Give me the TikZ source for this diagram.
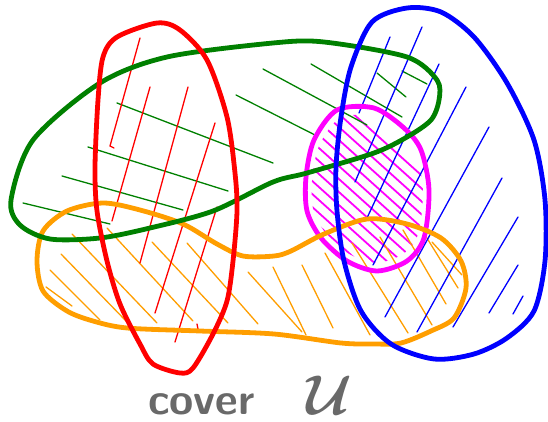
\documentclass[tikz,border=0pt]{standalone}
\usepackage{tikz}
\usepackage{xcolor}
\usepackage{graphicx}
\usepackage{bm}

\definecolor{cgreen}{RGB}{0,128,0}
\definecolor{cred}{RGB}{255,0,0}
\definecolor{cblue}{RGB}{0,0,255}
\definecolor{cmagenta}{RGB}{255,0,255}
\definecolor{corange}{RGB}{255,158,0}
\definecolor{cgrey}{RGB}{105,105,105}

\begin{document}
\begin{tikzpicture}[x=1pt,y=-1pt,
  outline/.style={line width=4.8pt,line cap=round,line join=round},
  hatch/.style={line width=1.3pt,line cap=round}]

\useasboundingbox (0,0) rectangle (548,422);

% magenta hatching
\begin{scope}
\clip[scale around={0.9:(368,190)}] plot[smooth cycle] coordinates {(337,110) (374,108) (404,128) (421,150) (429,190) (424,238) (407,261) (377,271) (347,261) (321,238) (307,211) (306,177) (314,140)};
\foreach \c in {-204,-191,...,-60} \draw[hatch,cmagenta,line width=1.8pt] (290,{261+\c}) -- (440,{396+\c});
\end{scope}

% orange hatching
\foreach \a/\b/\c/\d in {72/234/157/323, 107/228/193/321, 152/242/228/323, 187/243/258/324,
  61/254/127/322, 50/270/100/320, 46/287/72/306, 248/272/302/332, 273/267/306/335,
  302/265/333/328, 325/253/370/335, 352/243/408/333, 380/237/432/325, 403/230/446/304,
  425/235/458/288, 432/242/462/275}
  \draw[hatch,corange] (\a,\b) -- (\c,\d);

% green hatching
\foreach \a/\b/\c/\d in {117/103/273/163, 88/147/228/191, 62/176/183/210, 23/203/110/224,
  236/95/315/135, 263/69/367/125, 311/64/402/117, 377/73/406/97, 402/71/427/84}
  \draw[hatch,cgreen] (\a,\b) -- (\c,\d);

% red hatching
\draw[hatch,cred] (140,38) -- (110,146) -- (114,148);
\foreach \a/\b/\c/\d in {150/87/112/221, 188/87/140/263, 215/123/155/313, 217/207/175/342, 197/324/198/329}
  \draw[hatch,cred] (\a,\b) -- (\c,\d);

% blue hatching
\foreach \a/\b/\c/\d in {390/37/359/113, 422/27/355/182, 439/64/367/218, 466/87/373/265,
  489/127/385/317, 502/178/417/332, 518/217/453/327, 518/265/489/313, 523/296/513/314}
  \draw[hatch,cblue] (\a,\b) -- (\c,\d);

% the sets
\draw[outline,cmagenta] plot[smooth cycle] coordinates {(337,110) (374,108) (404,128) (421,150) (429,190) (424,238) (407,261) (377,271) (347,261) (321,238) (307,211) (306,177) (314,140)};
\draw[outline,corange] plot[smooth cycle] coordinates {(67,211) (103,203) (140,210) (183,224) (217,244) (243,256) (274,256) (291,251) (324,234) (367,219) (407,224) (441,238) (461,261) (466,288) (454,318) (431,331) (401,343) (374,344) (341,343) (274,334) (200,331) (127,328) (93,321) (67,311) (43,291) (37,261) (43,231)};
\draw[outline,cgreen] plot[smooth cycle] coordinates {(33,140) (100,83) (167,57) (273,43) (324,42) (407,57) (437,80) (439,100) (431,120) (407,137) (374,153) (307,173) (273,182) (213,211) (150,228) (100,238) (50,239) (20,225) (11,200)};
\draw[outline,cred] plot[smooth cycle] coordinates {(117,37) (157,23) (180,30) (207,60) (227,117) (235,173) (237,211) (233,261) (227,301) (213,334) (193,368) (180,373) (153,364) (140,344) (120,304) (107,261) (97,211) (95,167) (98,100) (103,57)};
\draw[outline,cblue] plot[smooth cycle] coordinates {(372,22) (407,8) (441,12) (474,37) (507,83) (534,140) (545,200) (545,261) (534,311) (507,338) (474,354) (434,359) (391,344) (361,311) (344,261) (337,211) (336,167) (341,117) (351,67)};

% label
\node[anchor=base west,inner sep=0pt,text=cgrey,font=\fontsize{44}{48}\selectfont\sffamily\bfseries] (cover) at (148,414) {cover\hspace{52pt}\scalebox{5.6}{\normalsize$\bm{\mathcal{U}}$}};

\end{tikzpicture}
\end{document}
